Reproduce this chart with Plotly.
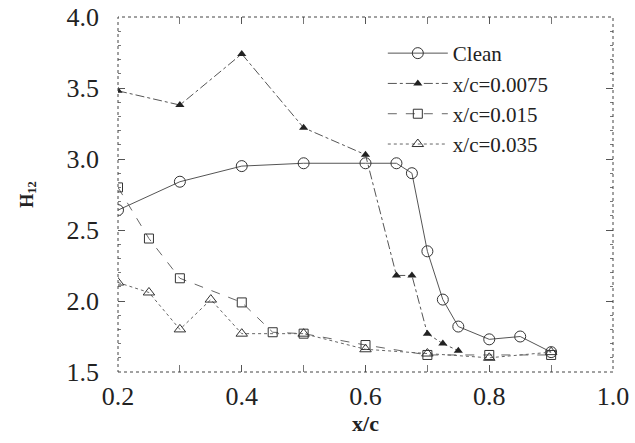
import plotly.graph_objects as go

clean_x = [0.2, 0.3, 0.4, 0.5, 0.6, 0.65, 0.675, 0.7, 0.725, 0.75, 0.8, 0.85, 0.9]
clean_y = [2.64, 2.84, 2.95, 2.97, 2.97, 2.97, 2.90, 2.35, 2.01, 1.82, 1.73, 1.75, 1.64]

s0075_x = [0.2, 0.3, 0.4, 0.5, 0.6, 0.65, 0.675, 0.7, 0.725, 0.75]
s0075_y = [3.48, 3.38, 3.74, 3.22, 3.03, 2.18, 2.18, 1.77, 1.70, 1.65]

s015_x = [0.2, 0.25, 0.3, 0.4, 0.45, 0.5, 0.6, 0.7, 0.8, 0.9]
s015_y = [2.80, 2.44, 2.16, 1.99, 1.78, 1.77, 1.69, 1.62, 1.62, 1.62]

s035_x = [0.2, 0.25, 0.3, 0.35, 0.4, 0.5, 0.6, 0.7, 0.8, 0.9]
s035_y = [2.13, 2.06, 1.80, 2.01, 1.77, 1.77, 1.66, 1.63, 1.60, 1.64]

x_ticks = [0.2, 0.4, 0.6, 0.8, 1.0]
y_ticks = [1.5, 2.0, 2.5, 3.0, 3.5, 4.0]

font = "Liberation Serif"
ink = "#222222"

fig = go.Figure()
fig.add_trace(go.Scatter(
    x=clean_x, y=clean_y, name="Clean", mode="lines+markers",
    line=dict(color="#555555", width=1),
    marker=dict(symbol="circle-open", size=11, color="#333333", line=dict(width=1))))
fig.add_trace(go.Scatter(
    x=s0075_x, y=s0075_y, name="x/c=0.0075", mode="lines+markers",
    line=dict(color="#555555", width=1, dash="dashdot"),
    marker=dict(symbol="triangle-up", size=8, color="#222222")))
fig.add_trace(go.Scatter(
    x=s015_x, y=s015_y, name="x/c=0.015", mode="lines+markers",
    line=dict(color="#666666", width=1, dash="dash"),
    marker=dict(symbol="square-open", size=9, color="#333333", line=dict(width=1))))
fig.add_trace(go.Scatter(
    x=s035_x, y=s035_y, name="x/c=0.035", mode="lines+markers",
    line=dict(color="#666666", width=1, dash="dot"),
    marker=dict(symbol="triangle-up-open", size=10, color="#333333", line=dict(width=1))))

fig.update_layout(
    width=635, height=443,
    margin=dict(l=118, r=22, t=17, b=71),
    plot_bgcolor="white", paper_bgcolor="white",
    font=dict(family=font, color=ink),
    legend=dict(x=0.535, y=0.955, xanchor="left", yanchor="top",
                bgcolor="rgba(0,0,0,0)", font=dict(size=21, family=font, color=ink),
                tracegroupgap=0, itemwidth=60),
    shapes=[dict(type="rect", xref="paper", yref="paper", x0=0, y0=0, x1=1, y1=1,
                 line=dict(color="#444444", width=1, dash="dot"))],
)
fig.update_xaxes(
    range=[0.2, 1.0], tickvals=x_ticks, ticktext=[f"{v:.1f}" for v in x_ticks],
    showgrid=False, zeroline=False, showline=False, automargin=False,
    ticks="inside", ticklen=7, tickcolor="#555555", mirror="allticks",
    minor=dict(dtick=0.1, ticks="inside", ticklen=7, tickcolor="#777777"),
    tickfont=dict(size=26, family=font, color=ink), ticklabelstandoff=6,
    title=dict(text="<b>x/c</b>", font=dict(size=22, family=font, color=ink), standoff=2),
)
fig.update_yaxes(
    range=[1.5, 4.0], tickvals=y_ticks, ticktext=[f"{v:.1f}" for v in y_ticks],
    showgrid=False, zeroline=False, showline=False, automargin=False,
    ticks="inside", ticklen=7, tickcolor="#555555", mirror="allticks",
    minor=dict(dtick=0.1, ticks="inside", ticklen=3, tickcolor="#777777"),
    tickfont=dict(size=26, family=font, color=ink), ticklabelstandoff=18,
    title=dict(text="<b>H<sub>12</sub></b>", font=dict(size=18, family=font, color=ink), standoff=28),
)

fig.write_html("out.html")
